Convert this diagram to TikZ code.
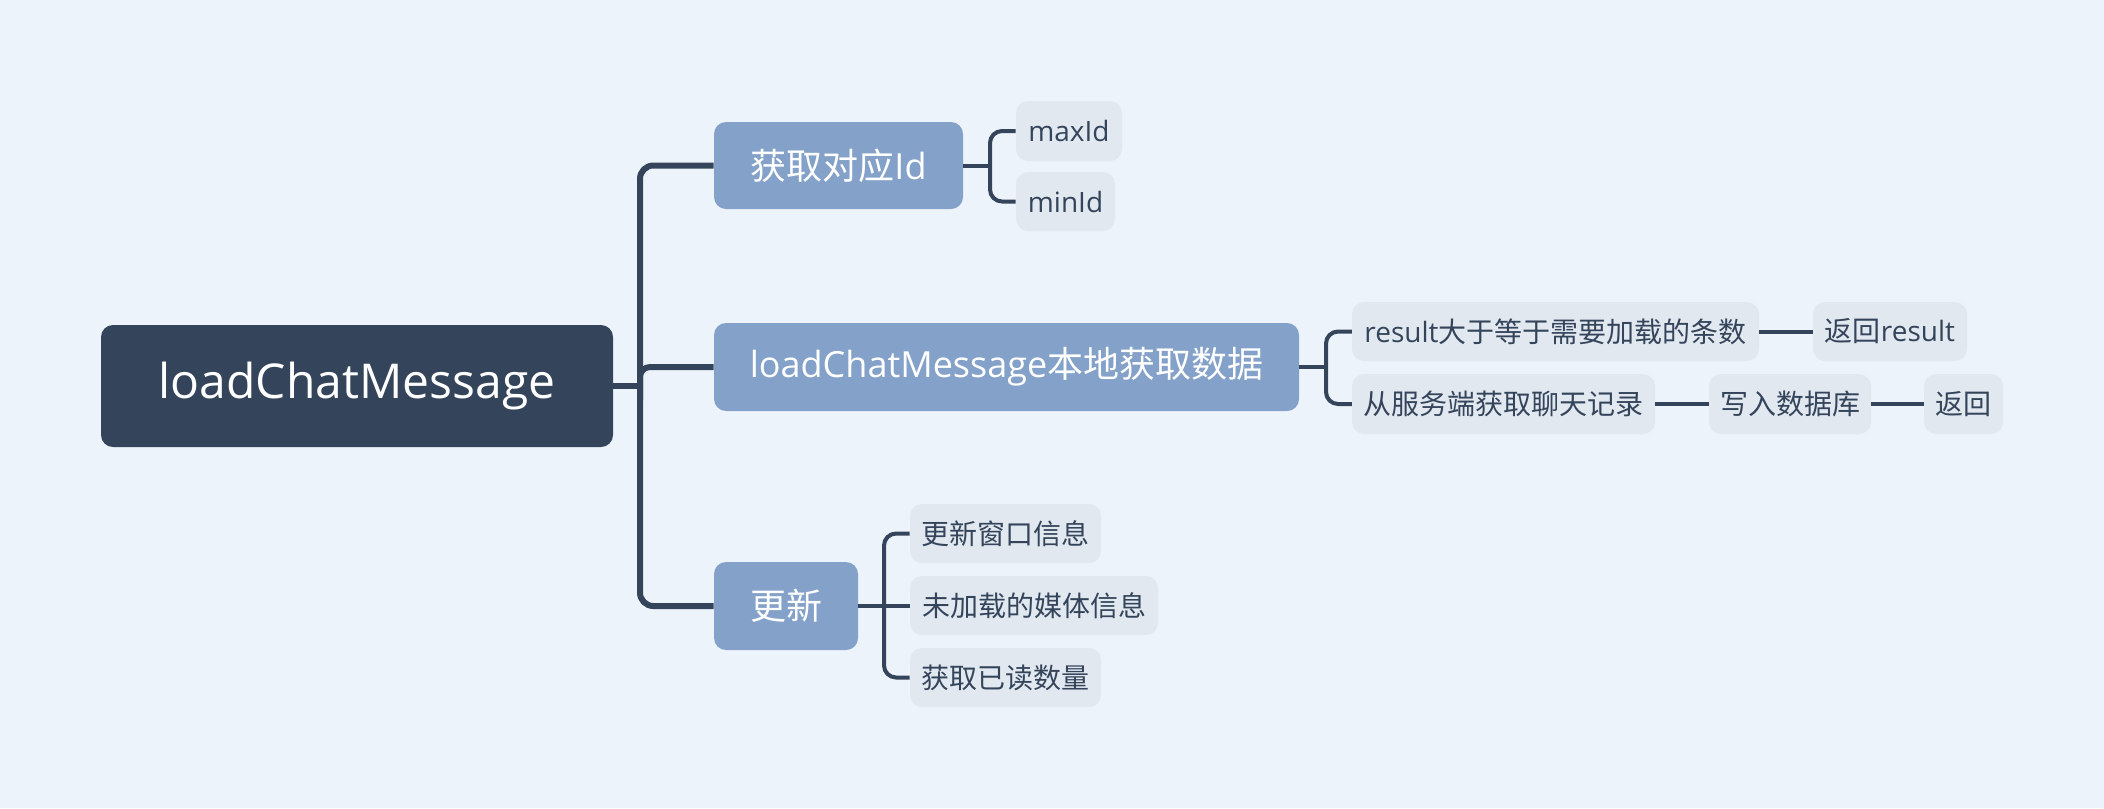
\documentclass[tikz,border=0pt]{standalone}
\usepackage{fontspec}
\setmainfont{Open Sans}
\newfontfamily\cjk{Noto Sans CJK SC}
\definecolor{bgc}{HTML}{EDF3FA}
\definecolor{rootc}{HTML}{34455B}
\definecolor{mainc}{HTML}{84A2C9}
\definecolor{subc}{HTML}{E1E8F0}
\definecolor{linec}{HTML}{34445A}
\tikzset{
  box/.style={rounded corners=9pt, inner sep=0pt, align=center, anchor=center},
  rootbox/.style={box, fill=rootc, text=white, font=\fontsize{36}{40}\selectfont},
  mainbox/.style={box, fill=mainc, text=white, font=\fontsize{27}{30}\selectfont},
  subbox/.style={box, fill=subc, text=linec, font=\fontsize{21}{24}\selectfont},
  mainconn/.style={draw=linec, line width=4.5pt, rounded corners=10pt},
  subconn/.style={draw=linec, line width=3pt, rounded corners=9pt},
}
\begin{document}
\begin{tikzpicture}[x=0.75pt,y=-0.75pt]
\useasboundingbox[fill=bgc] (0,0) rectangle (2104,808);

% nodes
\node[rootbox, minimum width=384pt, minimum height=91.5pt] (root) at (357,386) {loadChatMessage};
\node[mainbox, minimum width=186.75pt, minimum height=65.25pt] (m1) at (838.5,165.5) {{\cjk 获取对应}Id};
\node[mainbox, minimum width=438.75pt, minimum height=66pt] (m2) at (1006.5,367) {loadChatMessage{\cjk 本地获取数据}};
\node[mainbox, minimum width=108pt, minimum height=66pt] (m3) at (786,606) {\cjk 更新};

\node[subbox, minimum width=79.5pt, minimum height=45pt] (maxid) at (1069,131) {maxId};
\node[subbox, minimum width=74.25pt, minimum height=44.25pt] (minid) at (1065.5,201.5) {minId};

\node[subbox, minimum width=305.25pt, minimum height=44.25pt] (res) at (1555.5,331.5) {result{\cjk 大于等于需要加载的条数}};
\node[subbox, minimum width=115.5pt, minimum height=44.25pt] (retres) at (1890,331.5) {{\cjk 返回}result};
\node[subbox, minimum width=227.25pt, minimum height=45pt] (server) at (1503.5,404) {\cjk 从服务端获取聊天记录};
\node[subbox, minimum width=121.5pt, minimum height=45pt] (write) at (1790,404) {\cjk 写入数据库};
\node[subbox, minimum width=59.25pt, minimum height=45pt] (ret) at (1963.5,404) {\cjk 返回};

\node[subbox, minimum width=143.25pt, minimum height=44.25pt] (u1) at (1005.5,533.5) {\cjk 更新窗口信息};
\node[subbox, minimum width=186pt, minimum height=44.25pt] (u2) at (1034,605.5) {\cjk 未加载的媒体信息};
\node[subbox, minimum width=143.25pt, minimum height=44.25pt] (u3) at (1005.5,677.5) {\cjk 获取已读数量};

% junction coordinates
\coordinate (t0) at (640,386);
\coordinate (t3) at (640,606);
\coordinate (t2) at (640,400);
\coordinate (j1) at (990,165.5);
\coordinate (j1b) at (990,201.5);
\coordinate (j2) at (1326,367);
\coordinate (j2b) at (1326,404);
\coordinate (j3) at (884,606);
\coordinate (j3b) at (884,677.5);

% main connectors
\draw[mainconn] (m1.west) -| (t3) -- (m3.west);
\draw[mainconn, rounded corners=7.5pt] (t2) |- (m2.west);
\draw[mainconn, rounded corners=0pt] (root.east) -- (t0);

% sub connectors
\draw[subconn] (maxid.west) -| (j1b) -- (minid.west);
\draw[subconn, rounded corners=0pt] (m1.east) -- (j1);
\draw[subconn] (res.west) -| (j2b) -- (server.west);
\draw[subconn, rounded corners=0pt] (m2.east) -- (j2);
\draw[subconn] (u1.west) -| (j3b) -- (u3.west);
\draw[subconn, rounded corners=0pt] (m3.east) -- (j3) -- (u2.west |- j3);
\draw[subconn, rounded corners=0pt] (res.east) -- (retres.west);
\draw[subconn, rounded corners=0pt] (server.east) -- (write.west);
\draw[subconn, rounded corners=0pt] (write.east) -- (ret.west);
\end{tikzpicture}
\end{document}
